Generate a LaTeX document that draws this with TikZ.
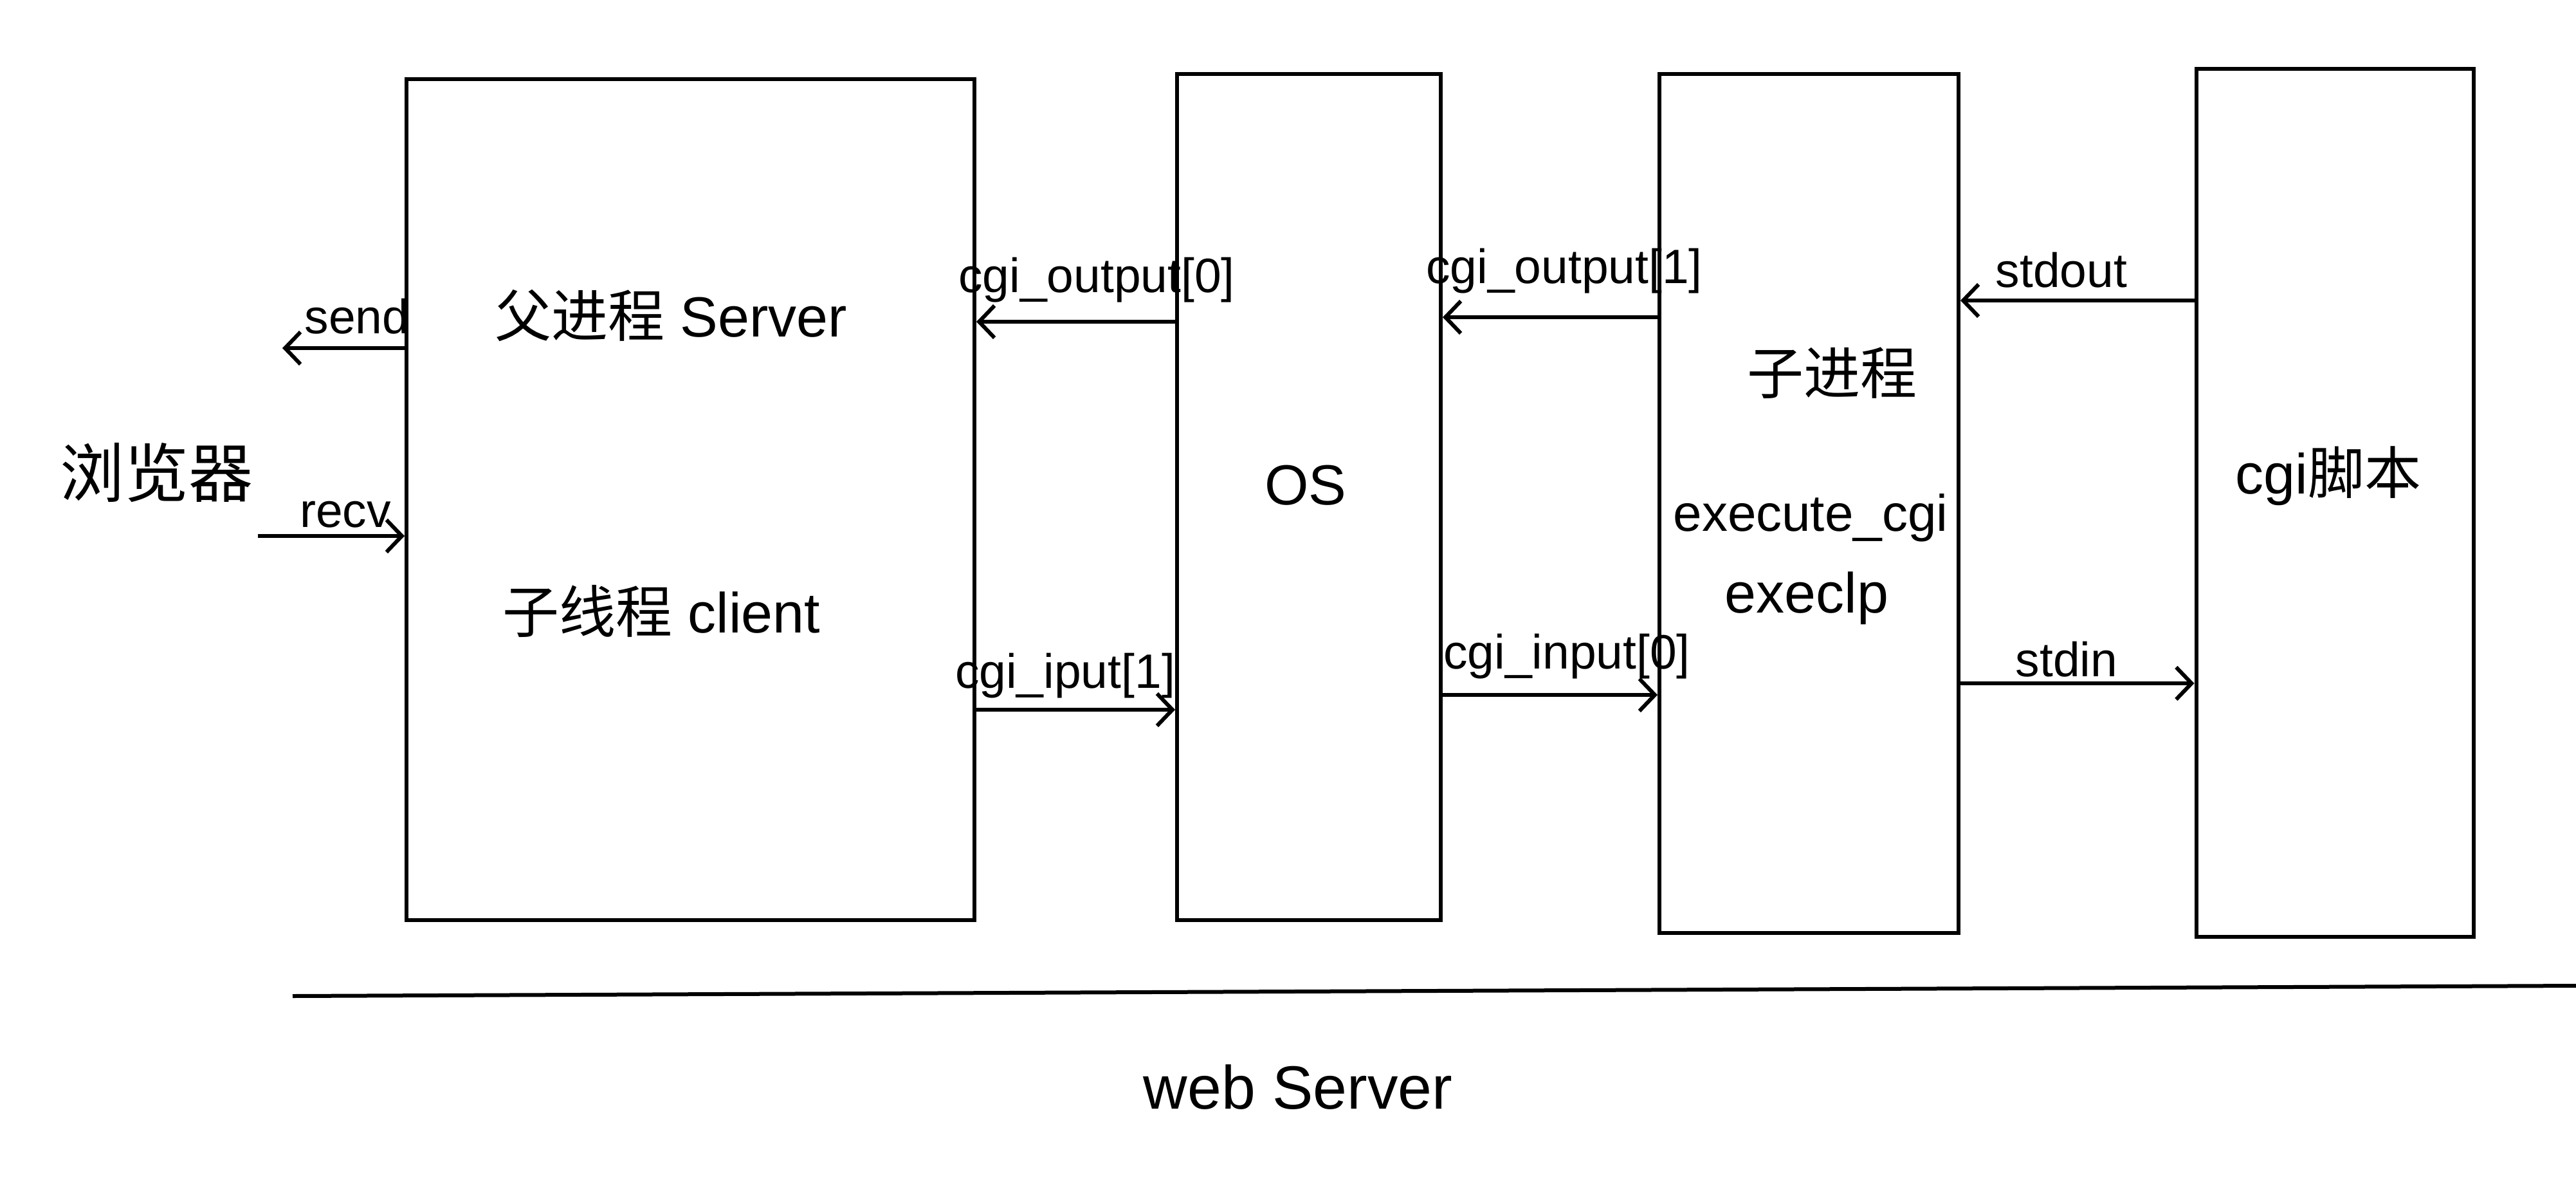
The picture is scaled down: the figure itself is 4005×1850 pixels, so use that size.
\documentclass[tikz,border=0pt]{standalone}
\usepackage{fontspec}
\setmainfont{Liberation Sans}
\newfontfamily\cjk{Noto Sans CJK SC}
\usetikzlibrary{arrows.meta,calc}
\begin{document}
\begin{tikzpicture}[x=1pt,y=-1pt,
  blk/.style={draw,line width=6pt,inner sep=0pt},
  arr/.style={line width=6pt,-{Straight Barb[length=24pt,width=50pt,line width=6pt]}},
  lbl/.style={font=\fontsize{75}{90}\selectfont,inner sep=0pt},
  big/.style={font=\fontsize{88}{100}\selectfont,inner sep=0pt}]
\useasboundingbox[fill=white] (0,0) rectangle (4005,1850);

% boxes
\node[blk,minimum width=883pt,minimum height=1307pt] (srv) at (1073.5,776.5) {};
\node[blk,minimum width=410pt,minimum height=1315pt] (os) at (2035,772.5) {};
\node[blk,minimum width=465pt,minimum height=1335pt] (child) at (2812.5,782.5) {};
\node[blk,minimum width=431pt,minimum height=1349pt] (script) at (3630,781.5) {};

% texts inside boxes
\node[big] (tsrv) at (1043,490) {{\cjk 父进程} Server};
\node[big] (tcli) at (1028,950) {{\cjk 子线程} client};
\node[big] (tos) at (2030,754) {OS};
\node[big] (tchild) at (2848,580) {\cjk 子进程};
\node[big,font=\fontsize{80}{96}\selectfont] (texec) at (2815,805) {execute\_cgi};
\node[big] (texeclp) at (2809,930) {execlp};
\node[big] (tscript) at (3620,740) {cgi{\cjk 脚本}};

% browser
\node[font=\fontsize{100}{110}\selectfont\cjk,inner sep=0pt] (browser) at (243,735) {浏览器};

% arrow levels
\coordinate (ys) at (0,541);
\coordinate (yr) at (0,833);
\coordinate (yo0) at (0,500);
\coordinate (yi1) at (0,1103);
\coordinate (yo1) at (0,493);
\coordinate (yi0) at (0,1080);
\coordinate (yso) at (0,467);
\coordinate (ysi) at (0,1062);
\coordinate (sendend) at (439,541);
\coordinate (recvstart) at (401,833);

\draw[arr] (srv.west |- ys) -- (sendend);
\draw[arr] (recvstart) -- (srv.west |- yr);
\draw[arr] (os.west |- yo0) -- (srv.east |- yo0);
\draw[arr] (srv.east |- yi1) -- (os.west |- yi1);
\draw[arr] (child.west |- yo1) -- (os.east |- yo1);
\draw[arr] (os.east |- yi0) -- (child.west |- yi0);
\draw[arr] (script.west |- yso) -- (child.east |- yso);
\draw[arr] (child.east |- ysi) -- (script.west |- ysi);

% arrow labels
\node[lbl] (lsend) at (555,492) {send};
\node[lbl] (lrecv) at (537,800) {recv};
\node[lbl] (lo0) at (1705,435) {cgi\_output[0]};
\node[lbl] (li1) at (1656,1050) {cgi\_iput[1]};
\node[lbl] (lo1) at (2432,421) {cgi\_output[1]};
\node[lbl] (li0) at (2436,1020) {cgi\_input[0]};
\node[lbl] (lso) at (3205,420) {stdout};
\node[lbl] (lsi) at (3213,1025) {stdin};

% base line and caption
\coordinate (bl) at (455,1548);
\coordinate (br) at (4005,1532);
\draw[line width=6pt] (bl) -- (br);
\node[font=\fontsize{95}{110}\selectfont,inner sep=0pt] (web) at (2018,1690) {web Server};
\end{tikzpicture}
\end{document}
